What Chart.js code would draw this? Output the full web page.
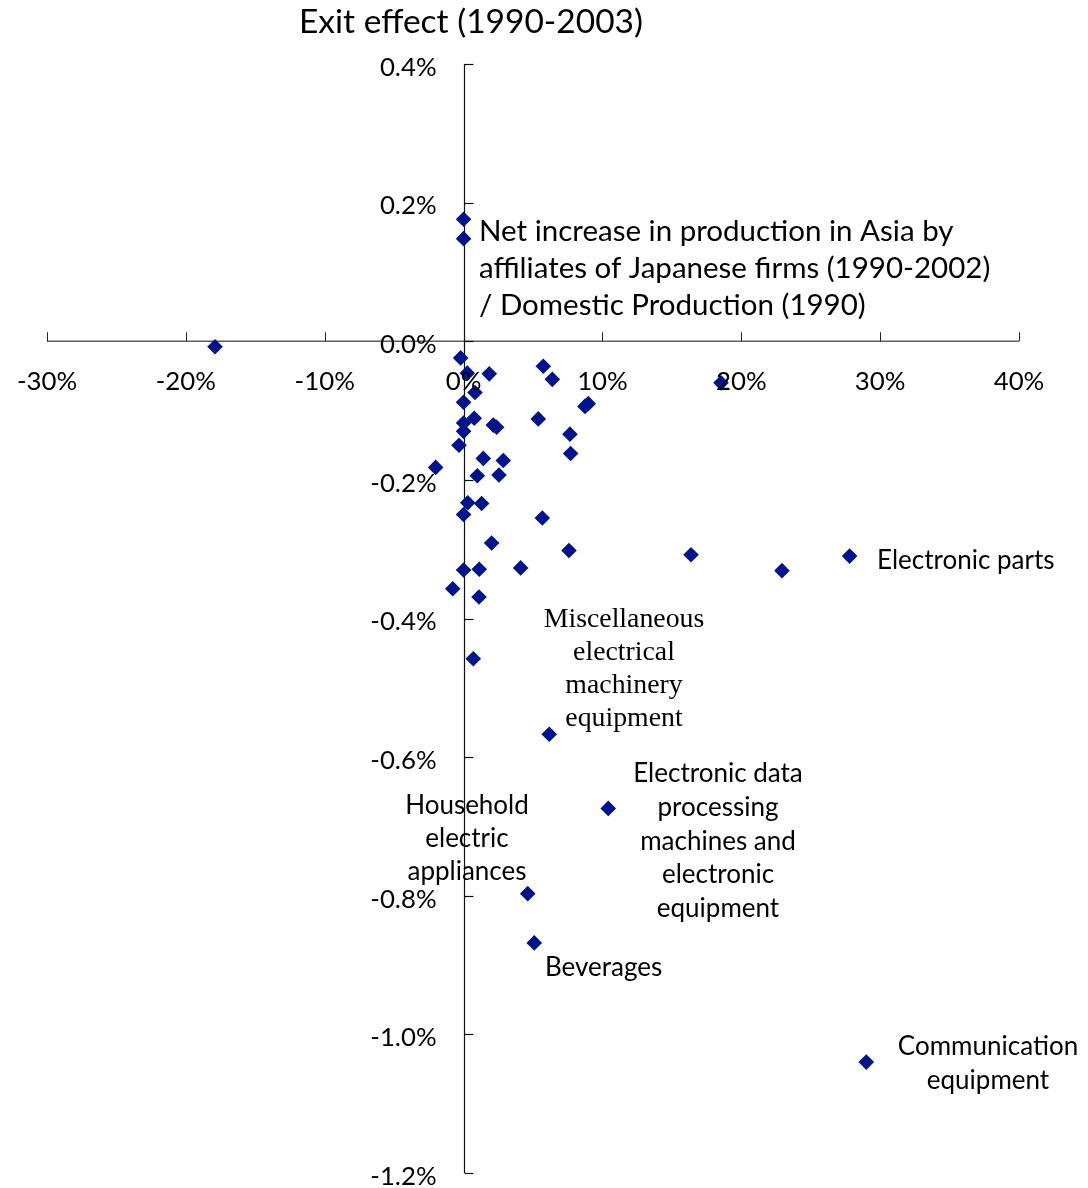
<!DOCTYPE html>
<html><head><meta charset="utf-8">
<script src="https://cdn.jsdelivr.net/npm/chart.js@4.4.1/dist/chart.umd.min.js"></script>
<style>html,body{margin:0;padding:0;background:#fff}#wrap{position:relative;width:1088px;height:1188px}</style>
</head><body><div id="wrap"><canvas id="c" width="1088" height="1188"></canvas></div>
<script>
// ---- data ----
const chartTitle = 'Exit effect (1990-2003)';
const xTicks = [-30, -20, -10, 0, 10, 20, 30, 40];
const xTickLabels = ['-30%', '-20%', '-10%', '0%', '10%', '20%', '30%', '40%'];
const yTicks = [0.4, 0.2, 0, -0.2, -0.4, -0.6, -0.8, -1.0, -1.2];
const yTickLabels = ['0.4%', '0.2%', '0.0%', '-0.2%', '-0.4%', '-0.6%', '-0.8%', '-1.0%', '-1.2%'];
// x: net increase in production in Asia by Japanese affiliates / domestic production (%)
const netIncrease = [0.0, 0.0, -17.9, -0.21, 0.27, 1.85, 5.74, 6.39, 18.54, 0.82,
  0.0, 8.74, 8.98, 0.77, 0.0, 5.38, 2.14, 2.38, 0.0, 7.66,
  -0.33, 7.71, 1.42, 2.86, -2.01, 0.99, 2.55, 0.30, 1.30, 0.0,
  5.67, 2.02, 7.59, 0.0, 1.13, 4.11, -0.78, 1.11, 16.38, 22.93,
  27.8, 0.70, 6.17, 10.42, 4.62, 5.09, 29.0];
// y: exit effect (%)
const exitEffect = [0.176, 0.148, -0.008, -0.024, -0.046, -0.047, -0.036, -0.055, -0.060, -0.074,
  -0.088, -0.094, -0.090, -0.111, -0.118, -0.112, -0.121, -0.124, -0.130, -0.134,
  -0.150, -0.162, -0.169, -0.172, -0.182, -0.194, -0.193, -0.233, -0.234, -0.250,
  -0.255, -0.291, -0.302, -0.330, -0.329, -0.327, -0.357, -0.369, -0.308, -0.331,
  -0.310, -0.458, -0.567, -0.674, -0.797, -0.868, -1.040];
const axisNote = ['Net increase in production in Asia by', 'affiliates of Japanese firms (1990-2002)', '/ Domestic Production (1990)'];
const pointNotes = [
  {lines: ['Electronic parts'], font: 'sans', align: 'left', x: 877, y: 561, lh: 34},
  {lines: ['Miscellaneous', 'electrical', 'machinery', 'equipment'], font: 'serif', align: 'center', x: 624, y: 620, lh: 33},
  {lines: ['Electronic data', 'processing', 'machines and', 'electronic', 'equipment'], font: 'sans', align: 'center', x: 718, y: 774, lh: 33.6},
  {lines: ['Household', 'electric', 'appliances'], font: 'sans', align: 'center', x: 467, y: 806, lh: 32.6},
  {lines: ['Beverages'], font: 'sans', align: 'left', x: 545, y: 968, lh: 34},
  {lines: ['Communication', 'equipment'], font: 'sans', align: 'center', x: 988, y: 1047, lh: 34}
];

// ---- styles ----
const SANS = 'Lato, "Open Sans", sans-serif';
const SERIF = '"Liberation Serif", "DejaVu Serif", serif';
const markerColor = '#00148C';

const axesPlugin = {
  id: 'centerAxes',
  beforeDatasetsDraw(chart) {
    const {ctx, scales: {x, y}} = chart;
    const x0 = x.getPixelForValue(0), y0 = y.getPixelForValue(0);
    ctx.save();
    // x axis line (grey)
    ctx.strokeStyle = '#5f5f5f';
    ctx.lineWidth = 1.6;
    ctx.beginPath();
    ctx.moveTo(x.getPixelForValue(xTicks[0]), y0);
    ctx.lineTo(x.getPixelForValue(xTicks[xTicks.length - 1]), y0);
    ctx.stroke();
    ctx.strokeStyle = '#222';
    ctx.lineWidth = 1;
    xTicks.forEach(v => {
      const px = Math.round(x.getPixelForValue(v)) + 0.5;
      ctx.beginPath(); ctx.moveTo(px, y0); ctx.lineTo(px, y0 - 9); ctx.stroke();
    });
    // y axis line (black)
    ctx.strokeStyle = '#111';
    ctx.lineWidth = 1.2;
    const xp = Math.round(x0) + 0.5;
    ctx.beginPath();
    ctx.moveTo(xp, y.getPixelForValue(yTicks[0]));
    ctx.lineTo(xp, y.getPixelForValue(yTicks[yTicks.length - 1]));
    ctx.stroke();
    yTicks.forEach(v => {
      const py = Math.round(y.getPixelForValue(v)) + 0.5;
      ctx.beginPath(); ctx.moveTo(xp, py); ctx.lineTo(xp + 9, py); ctx.stroke();
    });
    ctx.restore();
  },
  afterDatasetsDraw(chart) {
    const {ctx, scales: {x, y}} = chart;
    const x0 = x.getPixelForValue(0), y0 = y.getPixelForValue(0);
    ctx.save();
    ctx.fillStyle = '#000';
    ctx.textBaseline = 'middle';
    // tick labels
    ctx.font = '25.8px ' + SANS;
    ctx.textAlign = 'center';
    xTicks.forEach((v, i) => ctx.fillText(xTickLabels[i], x.getPixelForValue(v), y0 + 40));
    ctx.textAlign = 'right';
    yTicks.forEach((v, i) => ctx.fillText(yTickLabels[i], x0 - 27, y.getPixelForValue(v) + 3.5));
    // title
    ctx.textAlign = 'center';
    ctx.font = '33.5px ' + SANS;
    ctx.fillText(chartTitle, 471, 22);
    // axis note
    ctx.textAlign = 'left';
    ctx.font = '29.5px ' + SANS;
    axisNote.forEach((t, i) => ctx.fillText(t, 479, 231 + i * 37));
    // point notes
    pointNotes.forEach(n => {
      ctx.textAlign = n.align;
      ctx.font = n.font === 'serif' ? '27.8px ' + SERIF : '26px ' + SANS;
      n.lines.forEach((t, i) => ctx.fillText(t, n.x, n.y + i * n.lh));
    });
    ctx.restore();
  }
};

new Chart(document.getElementById('c'), {
  type: 'scatter',
  data: {
    datasets: [{
      data: netIncrease.map((v, i) => ({x: v, y: exitEffect[i]})),
      pointStyle: 'rectRot',
      pointRadius: 7.8,
      pointHoverRadius: 7.8,
      backgroundColor: markerColor,
      borderColor: markerColor,
      borderWidth: 0,
      clip: false
    }]
  },
  options: {
    responsive: false,
    animation: false,
    devicePixelRatio: 1,
    layout: {padding: {left: 47, right: 69, top: 64, bottom: 15}},
    plugins: {legend: {display: false}, tooltip: {enabled: false}, title: {display: false}},
    scales: {
      x: {type: 'linear', min: -30, max: 40, display: false},
      y: {type: 'linear', min: -1.2, max: 0.4, display: false}
    },
    events: []
  },
  plugins: [axesPlugin]
});
</script>
</body></html>
